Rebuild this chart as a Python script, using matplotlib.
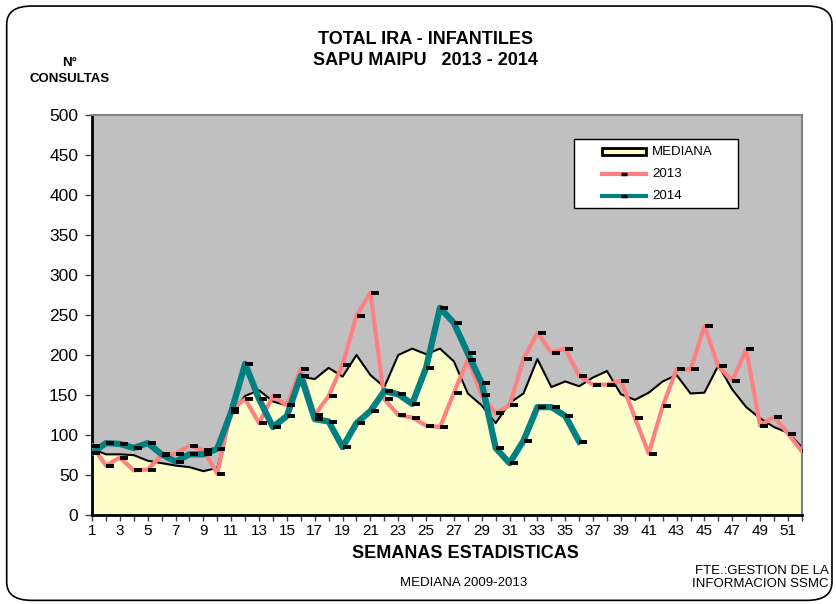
#! /bin/python3

import numpy as np
from matplotlib import pyplot as plt
from matplotlib.patches import FancyBboxPatch, Rectangle
from matplotlib.lines import Line2D

# DATA
weeks = list(range(1, 53))

mediana = [83, 76, 76, 75, 68, 65, 62, 60, 55, 59,
           127, 149, 156, 142, 137, 173, 170, 184, 173, 200,
           175, 160, 200, 208, 201, 208, 192, 152, 137, 115,
           140, 152, 195, 160, 167, 161, 172, 180, 151, 144,
           153, 167, 175, 152, 153, 187, 157, 135, 121, 110,
           103, 85]

s2013 = [87, 62, 72, 56, 57, 75, 77, 87, 81, 52,
         132, 145, 115, 149, 137, 183, 125, 149, 188, 249,
         278, 145, 125, 122, 112, 110, 153, 194, 150, 127,
         137, 195, 228, 203, 208, 174, 163, 163, 168, 122,
         77, 136, 182, 182, 236, 186, 168, 207, 112, 123,
         102, 80]

s2014 = [78, 90, 89, 84, 90, 76, 67, 76, 76, 83,
         129, 189, 145, 110, 124, 174, 120, 117, 85, 115,
         130, 155, 151, 139, 184, 259, 240, 202, 165, 84,
         65, 93, 135, 135, 124, 92]

yticks = list(range(0, 501, 50))
xlabels = [str(w) if w % 2 == 1 else "" for w in weeks]
legend_names = ["MEDIANA", "2013", "2014"]

PINK = "#FF8080"
TEAL = "#008080"
CREAM = "#FFFFCC"

plt.rcParams['font.family'] = ['Liberation Sans', 'DejaVu Sans']

# SET PLOT
fig = plt.figure(figsize=(8.37, 6.04), dpi=100)
ax = fig.add_axes([0.110, 0.147, 0.848, 0.663])
ax.set_facecolor("#C0C0C0")

# rounded frame around the whole chart
frame = FancyBboxPatch((0.008, 0.006), 0.986, 0.984,
                       boxstyle="round,pad=0,rounding_size=0.03",
                       transform=fig.transFigure, fill=False,
                       edgecolor="black", linewidth=1.2)
fig.patches.append(frame)

# MEDIANA AREA
ax.fill_between(weeks, mediana, 0, color=CREAM, zorder=1)
ax.plot(weeks, mediana, color="black", linewidth=1.5, zorder=2)
ax.plot([weeks[-1], weeks[-1]], [0, mediana[-1]], color="black",
        linewidth=2, zorder=2)

# SERIES
ax.plot(weeks, s2013, color=PINK, linewidth=3, zorder=3)
ax.plot(weeks[:len(s2014)], s2014, color=TEAL, linewidth=4.5, zorder=4)
ax.plot(np.array(weeks) + 0.3, s2013, linestyle="none", marker="_",
        markersize=6, markeredgewidth=2.8, color="black", zorder=5)
ax.plot(np.array(weeks[:len(s2014)]) + 0.3, s2014, linestyle="none",
        marker="_", markersize=6, markeredgewidth=2.8, color="black",
        zorder=5)

# AXES
ax.set_xlim(1, 52)
ax.set_ylim(0, 500)
ax.set_yticks(yticks)
ax.set_yticklabels([str(v) for v in yticks], fontsize=12.5)
ax.set_xticks(weeks)
ax.set_xticklabels(xlabels, fontsize=11)
ax.tick_params(axis="y", direction="out", length=5, width=1,
               color="#404040", pad=5)
ax.tick_params(axis="x", direction="out", length=4, width=1,
               color="#404040", pad=2)
for side in ["left", "bottom"]:
    ax.spines[side].set_linewidth(2)
    ax.spines[side].set_color("black")
for side in ["top", "right"]:
    ax.spines[side].set_linewidth(1.5)
    ax.spines[side].set_color("#808080")

# TITLES
fig.text(0.508, 0.934, "TOTAL IRA - INFANTILES", ha="center", va="center",
         fontsize=13, fontweight="bold")
fig.text(0.508, 0.900, "SAPU MAIPU   2013 - 2014", ha="center",
         va="center", fontsize=13, fontweight="bold")
fig.text(0.083, 0.895, "N°", ha="center", va="center", fontsize=9.5,
         fontweight="bold")
fig.text(0.083, 0.870, "CONSULTAS", ha="center", va="center", fontsize=9.5,
         fontweight="bold")
fig.text(0.556, 0.083, "SEMANAS ESTADISTICAS", ha="center", va="center",
         fontsize=13, fontweight="bold")
fig.text(0.554, 0.034, "MEDIANA 2009-2013", ha="center", va="center",
         fontsize=9.5)
fig.text(0.990, 0.044, "FTE.:GESTION DE LA\nINFORMACION SSMC", ha="right",
         va="center", fontsize=9.5, linespacing=1.2)

# LEGEND (drawn like the excel box)
ax.add_patch(Rectangle((0.679, 0.7675), 0.231, 0.1725,
                       transform=ax.transAxes, facecolor="white",
                       edgecolor="black", linewidth=1, zorder=6))
rows_y = [0.9075, 0.8525, 0.7975]
ax.add_patch(Rectangle((0.7183, rows_y[0] - 0.0085), 0.062, 0.017,
                       transform=ax.transAxes, facecolor=CREAM,
                       edgecolor="black", linewidth=2, zorder=7))
for y, color in zip(rows_y[1:], [PINK, TEAL]):
    ax.add_line(Line2D([0.7183, 0.7803], [y, y], transform=ax.transAxes,
                       color=color, linewidth=3, zorder=7))
    ax.add_line(Line2D([0.7493], [y], transform=ax.transAxes,
                       marker="_", markersize=4, markeredgewidth=2.5,
                       color="black", zorder=8))
for y, name in zip(rows_y, legend_names):
    ax.text(0.7887, y, name, transform=ax.transAxes, ha="left",
            va="center", fontsize=9.5, zorder=8)

fig.savefig("out.png", dpi=100)
